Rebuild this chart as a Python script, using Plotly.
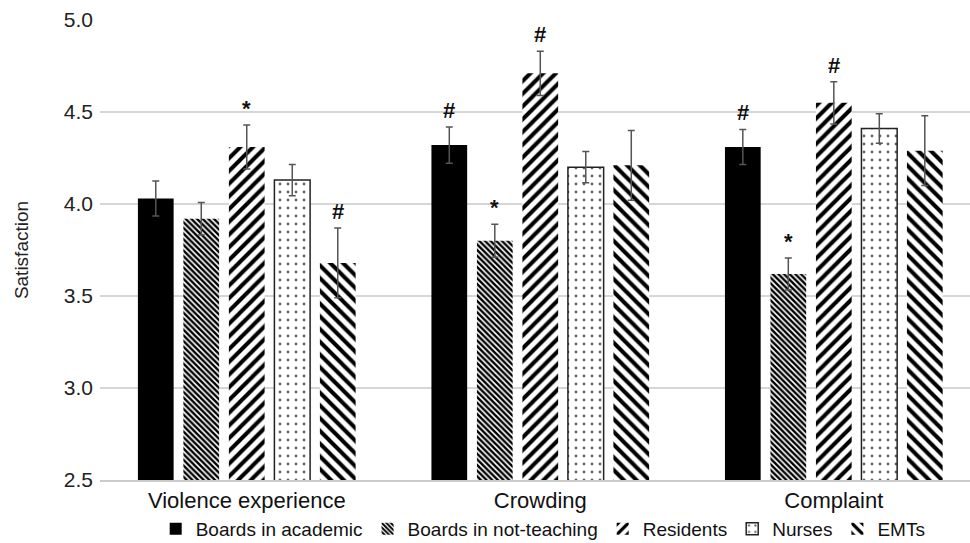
import plotly.graph_objects as go

# Satisfaction scores (mean ± error) by topic and respondent group
categories = ["Violence experience", "Crowding", "Complaint"]
groups = ["Boards in academic", "Boards in not-teaching", "Residents", "Nurses", "EMTs"]

academic = [4.03, 4.32, 4.31]
academic_err = [0.095, 0.098, 0.095]
not_teaching = [3.92, 3.80, 3.62]
not_teaching_err = [0.088, 0.09, 0.087]
residents = [4.31, 4.71, 4.55]
residents_err = [0.12, 0.12, 0.115]
nurses = [4.13, 4.20, 4.41]
nurses_err = [0.085, 0.085, 0.08]
emts = [3.68, 4.21, 4.29]
emts_err = [0.19, 0.19, 0.19]

# Significance markers per group and category ("" = none)
academic_sig = ["", "#", "#"]
not_teaching_sig = ["", "*", "*"]
residents_sig = ["*", "#", "#"]
nurses_sig = ["", "", ""]
emts_sig = ["#", "", ""]

FONT = "Liberation Sans Narrow, Arial Narrow, Liberation Sans, Arial, sans-serif"

values = [academic, not_teaching, residents, nurses, emts]
errors = [academic_err, not_teaching_err, residents_err, nurses_err, emts_err]
sigs = [academic_sig, not_teaching_sig, residents_sig, nurses_sig, emts_sig]


def hatch(shape, size, solidity, fg="black"):
    return dict(shape=shape, size=size, solidity=solidity, fgcolor=fg,
                fgopacity=1, bgcolor="white", fillmode="overlay")


styles = [
    dict(color="black", line=dict(width=0)),
    dict(color="white", pattern=hatch("\\", 4, 0.6), line=dict(width=0)),
    dict(color="white", pattern=hatch("/", 9, 0.45), line=dict(width=0)),
    dict(color="white", pattern=hatch(".", 8, 0.1, "#666666"),
         line=dict(width=1.5, color="#222222")),
    dict(color="white", pattern=hatch("\\", 9, 0.45), line=dict(width=0)),
]

fig = go.Figure()
for name, vals, errs, st in zip(groups, values, errors, styles):
    fig.add_trace(go.Bar(
        name=name,
        x=categories,
        y=vals,
        marker=st,
        error_y=dict(type="data", array=errs, visible=True,
                     color="#555555", thickness=1.5, width=3.5),
        hoverinfo="x+y+name",
    ))

n_groups = len(groups)
bargap = 0.225
slot = (1 - bargap) / n_groups
annotations = []
for gi, (vals, errs, sig) in enumerate(zip(values, errors, sigs)):
    for ci, s in enumerate(sig):
        if not s:
            continue
        xpos = ci - (1 - bargap) / 2 + slot * (gi + 0.5)
        annotations.append(dict(
            x=xpos, y=vals[ci] + errs[ci], xref="x", yref="y",
            text=f"<b>{s}</b>", showarrow=False,
            yanchor="bottom", yshift=2,
            font=dict(family=FONT, size=22, color="#111111"),
        ))

fig.update_layout(
    width=970, height=543,
    margin=dict(l=100, r=0, t=20, b=63),
    paper_bgcolor="white", plot_bgcolor="white",
    barmode="group", bargap=bargap, bargroupgap=0.215,
    font=dict(family=FONT, size=20, color="#222222"),
    showlegend=True,
    legend=dict(orientation="h", x=0.56, xref="container", xanchor="center",
                y=0.026, yref="container", yanchor="middle",
                bgcolor="rgba(0,0,0,0)",
                font=dict(family=FONT, size=19, color="#111111"),
                itemwidth=30, traceorder="normal"),
    annotations=annotations,
    xaxis=dict(type="category", range=[-0.5, 2.464], showgrid=False,
               showline=True, linecolor="#cccccc", linewidth=1.5,
               automargin=False, ticklabelstandoff=0,
               tickfont=dict(family=FONT, size=22, color="#111111"), ticks=""),
    yaxis=dict(range=[2.5, 5.0], dtick=0.5, tickformat=".1f",
               showgrid=True, gridcolor="#d6d6d6", gridwidth=1.5,
               zeroline=False, showline=False, ticks="", automargin=False,
               ticklabelstandoff=6,
               tickfont=dict(family=FONT, size=21, color="#222222"),
               title=dict(text="Satisfaction", standoff=30,
                          font=dict(family=FONT, size=19, color="#222222"))),
)

fig.write_html("out.html")
